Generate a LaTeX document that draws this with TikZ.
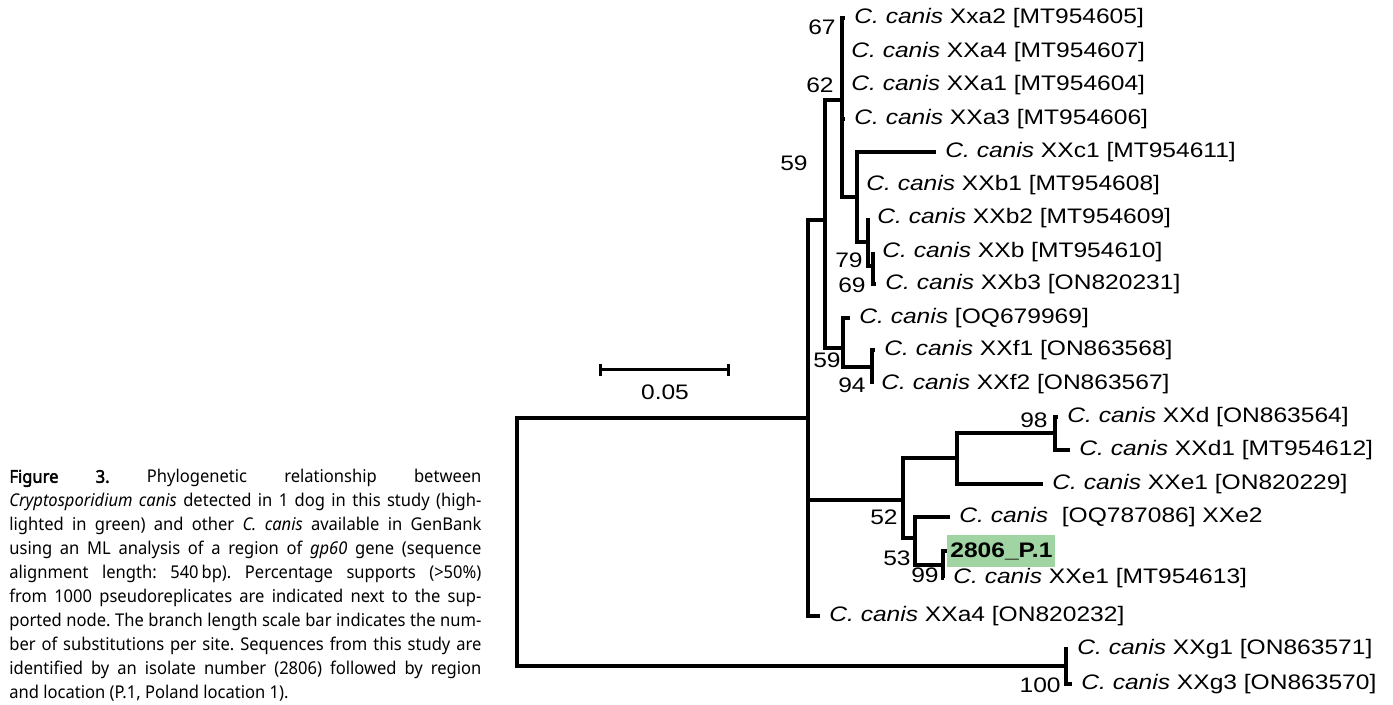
\documentclass[tikz,border=0pt]{standalone}
\usepackage{fontspec}
\setmainfont{Noto Sans}
\newfontfamily\treefont[FakeStretch=1.17]{Liberation Sans}
\newfontfamily\capfont[FakeStretch=0.94, BoldFont={Noto Sans},
  BoldFeatures={FakeBold=2.5}]{Noto Sans}
\usetikzlibrary{arrows.meta, positioning}
\definecolor{hlgreen}{RGB}{160,212,162}
\newcommand{\ccanis}{\textit{C. canis}}
\tolerance=10000
\hbadness=10000
\hyphenpenalty=10000
\frenchspacing

\begin{document}
\begin{tikzpicture}[
  x=0.5pt, y=-0.5pt,
  br/.style={line width=1.7pt},
  leaf/.style={anchor=west, inner xsep=4.5pt, inner ysep=0pt,
               font=\treefont\fontsize{10.5}{12}\selectfont},
  boot/.style={anchor=east, inner sep=0pt,
               font=\treefont\fontsize{10.5}{12}\selectfont},
  hl/.style={anchor=west, fill=hlgreen, inner xsep=1.5pt, inner ysep=0pt,
             minimum height=16pt,
             font=\treefont\bfseries\fontsize{10.5}{12}\selectfont},
  capt/.style={anchor=north west, inner sep=0pt, text width=236pt,
               align=justify, font=\capfont\fontsize{8.8}{12}\selectfont}
]
  \useasboundingbox (0,0) rectangle (1393,705);

  % Internal nodes
  \coordinate (nR) at (517,541);
  \coordinate (nA) at (808,418);
  \coordinate (nB) at (825,220);
  \coordinate (nD) at (842,100);
  \coordinate (nE) at (857,197);
  \coordinate (nH) at (868,242);
  \coordinate (nI) at (873,266);
  \coordinate (nF) at (843,348);
  \coordinate (nJ) at (872,367);
  \coordinate (nC) at (903,500);
  \coordinate (nK) at (957,458);
  \coordinate (nM) at (1055,433);
  \coordinate (nL) at (915,538);
  \coordinate (nN) at (943,565);
  \coordinate (nG) at (1066,666);

  % Leaves
  \node[leaf] (lXa2)  at (845,18)   {\ccanis{} Xxa2 [MT954605]};
  \node[leaf] (lXa4)  at (842,52)   {\ccanis{} XXa4 [MT954607]};
  \node[leaf] (lXa1)  at (842,85)   {\ccanis{} XXa1 [MT954604]};
  \node[leaf] (lXa3)  at (845,119)  {\ccanis{} XXa3 [MT954606]};
  \node[leaf] (lXc1)  at (936,152)  {\ccanis{} XXc1 [MT954611]};
  \node[leaf] (lXb1)  at (857,185)  {\ccanis{} XXb1 [MT954608]};
  \node[leaf] (lXb2)  at (868,218)  {\ccanis{} XXb2 [MT954609]};
  \node[leaf] (lXb)   at (873,252)  {\ccanis{} XXb [MT954610]};
  \node[leaf] (lXb3)  at (876,284)  {\ccanis{} XXb3 [ON820231]};
  \node[leaf] (lOQ6)  at (850,318)  {\ccanis{} [OQ679969]};
  \node[leaf] (lXf1)  at (875,350)  {\ccanis{} XXf1 [ON863568]};
  \node[leaf] (lXf2)  at (872,384)  {\ccanis{} XXf2 [ON863567]};
  \node[leaf] (lXd)   at (1058,417) {\ccanis{} XXd [ON863564]};
  \node[leaf] (lXd1)  at (1070,450) {\ccanis{} XXd1 [MT954612]};
  \node[leaf] (lXe1)  at (1043,484) {\ccanis{} XXe1 [ON820229]};
  \node[leaf] (lOQ7)  at (950,517)  {\ccanis{}\ \ [OQ787086] XXe2};
  \node[hl]   (l2806) at (947,551)  {2806\_P.1};
  \node[leaf] (lXe1b) at (944,578)  {\ccanis{} XXe1 [MT954613]};
  \node[leaf] (lXa4b) at (820,616)  {\ccanis{} XXa4 [ON820232]};
  \node[leaf] (lXg1)  at (1068,649) {\ccanis{} XXg1 [ON863571]};
  \node[leaf] (lXg3)  at (1072,684) {\ccanis{} XXg3 [ON863570]};

  % Branches
  \foreach \p/\c in {nR/nA, nR/nG, nA/nB, nA/nC, nB/nD, nB/nF, nD/nE,
                     nE/nH, nH/nI, nF/nJ, nC/nK, nC/nL, nK/nM, nL/nN}
    \draw[br] (\p) |- (\c);
  \foreach \p/\c in {nA/lXa4b, nD/lXa2, nD/lXa3, nE/lXc1, nH/lXb2, nI/lXb,
                     nI/lXb3, nF/lOQ6, nJ/lXf1, nJ/lXf2, nM/lXd, nM/lXd1,
                     nK/lXe1, nL/lOQ7, nN/l2806, nN/lXe1b, nG/lXg1, nG/lXg3}
    \draw[br] (\p) |- (\c.west);

  % Bootstrap supports
  \node[boot] (b67)  at (836,27)   {67};
  \node[boot] (b62)  at (834,85)   {62};
  \node[boot] (b59a) at (808,163)  {59};
  \node[boot] (b79)  at (863,260)  {79};
  \node[boot] (b69)  at (866,285)  {69};
  \node[boot] (b59b) at (841,360)  {59};
  \node[boot] (b94)  at (866,385)  {94};
  \node[boot] (b98)  at (1048,420) {98};
  \node[boot] (b52)  at (898,517)  {52};
  \node[boot] (b53)  at (911,558)  {53};
  \node[boot] (b99)  at (939,575)  {99};
  \node[boot] (b100) at (1061,685) {100};

  % Scale bar
  \coordinate (sbL) at (599,370);
  \coordinate (sbR) at (730,370);
  \draw[line width=1.5pt, {Bar[width=6pt]}-{Bar[width=6pt]}] (sbL) -- (sbR);
  \node[boot, anchor=center] (sbT) at (665,392) {0.05};

  % Caption
  \node[capt] (cap) at (9,469) {\textbf{Figure 3.} Phylogenetic relationship
    between\linebreak
    \textit{Cryptosporidium canis} detected in 1 dog in this study (high-\linebreak
    lighted in green) and other \textit{C. canis} available in GenBank\linebreak
    using an ML analysis of a region of \textit{gp60} gene (sequence\linebreak
    alignment length: 540\,bp). Percentage supports (>50\%)\linebreak
    from 1000 pseudoreplicates are indicated next to the sup-\linebreak
    ported node. The branch length scale bar indicates the num-\linebreak
    ber of substitutions per site. Sequences from this study are\linebreak
    identified by an isolate number (2806) followed by region\linebreak
    and location (P.1, Poland location 1).};
\end{tikzpicture}
\end{document}
